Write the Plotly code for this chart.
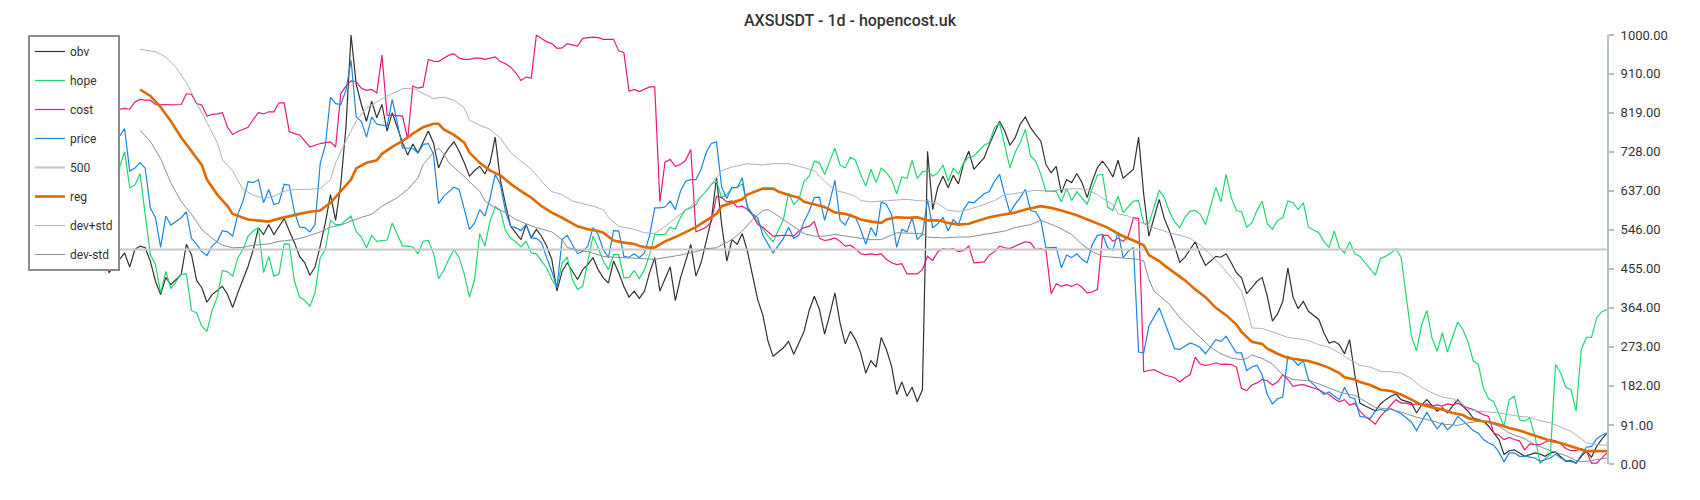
import plotly.graph_objects as go

# ---- data: (day index, value) ----
obv_pts = [(0,473),(1,446),(4,492),(5,459),(6,500),(7,508),(8,504),(9,473),(10,426),(11,395),(12,435),(13,418),(15,442),(16,512),(17,488),(18,428),(19,411),(20,377),(21,395),(22,404),(23,414),(24,395),(25,365),(26,399),(27,430),(28,461),(29,500),(30,551),(31,535),(32,558),(33,535),(34,554),(35,572),(36,543),(37,516),(38,484),(39,469),(40,440),(41,459),(42,508),(43,562),(44,628),(45,568),(46,652),(47,784),(48,1000),
(49,885),(50,838),(51,799),(52,846),(53,807),(54,838),(55,776),(56,819),(58,749),(59,720),(60,746),(61,725),(62,749),(63,776),(64,749),(65,690),(66,718),(67,737),(68,751),(69,729),(70,702),(71,671),(72,684),(73,694),(74,676),(75,702),(76,762),(77,663),(78,605),(79,554),(80,539),(81,523),(82,558),(83,527),(84,547),(85,531),(86,508),(87,477),(88,403),(89,449),(90,469),(91,449),(92,430),(93,453),(94,465),(95,481),(96,453),(97,434),
(98,422),(99,473),(100,446),(101,414),(102,389),(103,403),(104,386),(105,403),(106,446),(107,481),(108,403),(109,432),(110,459),(111,381),(112,434),(113,473),(114,512),(115,438),(116,469),(117,519),(118,570),(119,667),(120,558),(121,473),(122,523),(123,512),(124,537),(125,496),(126,442),(127,383),(128,347),(129,286),(130,251),(132,271),(133,286),(134,256),(135,282),(136,309),(137,358),(138,391),(139,360),(140,303),(141,348),(142,399),(143,329),(144,280),(145,309),(146,290),
(147,259),(148,212),(149,241),(150,226),(151,295),(152,267),(153,228),(154,162),(155,191),(156,158),(157,179),(158,145),(159,173),(160,729),(161,593),(162,645),(163,671),(164,644),(165,673),(166,653),(167,700),(168,729),(169,687),(171,714),(172,745),(173,772),(174,799),(175,776),(176,743),(177,760),(178,792),(179,809),(180,784),(181,768),(182,753),(183,698),(184,679),(185,694),(186,632),(187,663),(188,656),(189,677),(190,656),(191,621),(192,659),(193,691),(194,706),
(195,690),(196,669),(197,708),(198,666),(200,687),(201,762),(202,628),(203,531),(204,574),(205,617),(206,572),(207,543),(208,508),(209,470),(210,482),(211,500),(212,518),(213,488),(214,463),(215,473),(216,484),(217,482),(218,490),(219,469),(220,446),(221,434),(222,397),(223,411),(224,426),(225,435),(226,391),(227,333),(228,350),(229,378),(230,457),(231,389),(232,362),(233,379),(234,356),(236,337),(237,306),(238,282),(239,286),(240,278),(241,257),(242,290),
(243,208),(244,142),(245,135),(247,124),(248,140),(249,150),(250,158),(251,163),(252,150),(253,146),(254,142),(255,119),(256,138),(257,150),(258,137),(259,123),(260,131),(261,119),(262,135),(263,150),(264,135),(265,123),(266,107),(267,103),(268,100),(269,88),(270,72),(271,57),(272,22),(273,31),(274,33),(275,26),(276,18),(278,26),(279,23),(280,18),(281,26),(282,28),(283,16),(284,6),(285,8),(286,2),(287,18),(288,30),(289,16),(290,41),(291,58),(292,72)]

hope_pts = [(1,683),(3,690),(4,728),(5,644),(6,650),(7,677),(8,582),(9,488),(10,465),(11,399),(12,449),(13,409),(15,442),(16,443),(17,358),(18,352),(19,321),(20,309),(21,358),(22,389),(23,451),(24,448),(25,438),(26,481),(27,500),(28,531),(29,543),(30,551),(31,446),(32,484),(33,438),(34,443),(35,513),(36,512),(37,426),(38,389),(39,381),(40,368),(41,399),(42,481),(43,500),(44,568),(45,558),(46,558),(47,568),(48,578),
(49,541),(50,529),(51,504),(52,533),(53,519),(54,521),(55,522),(56,562),(58,508),(59,508),(60,506),(61,490),(62,519),(63,521),(64,492),(65,432),(66,451),(67,477),(68,500),(69,481),(70,442),(71,389),(72,430),(73,537),(74,508),(75,566),(76,600),(77,591),(78,544),(79,526),(80,518),(81,506),(82,519),(83,492),(84,490),(85,473),(86,457),(87,430),(88,412),(89,469),(90,482),(91,430),(92,407),(93,414),(94,473),(95,531),(96,504),(97,473),
(98,453),(99,488),(100,488),(101,434),(102,435),(103,451),(104,432),(105,453),(106,488),(107,535),(108,535),(109,535),(110,552),(111,547),(112,575),(113,593),(114,597),(115,605),(116,624),(117,636),(118,652),(119,659),(120,621),(121,628),(122,644),(123,645),(124,653),(125,601),(126,582),(127,565),(128,551),(129,531),(130,518),(132,570),(133,632),(134,605),(135,617),(136,659),(137,671),(138,706),(139,702),(140,675),(141,706),(142,736),(143,697),(144,690),(145,715),(146,708),
(147,675),(148,648),(149,687),(150,656),(151,690),(152,679),(153,663),(154,630),(155,669),(156,666),(157,708),(158,666),(159,681),(160,684),(161,671),(162,679),(163,697),(164,659),(165,689),(166,676),(167,702),(168,715),(169,718),(171,743),(172,749),(173,784),(174,795),(175,745),(176,690),(177,726),(178,749),(179,780),(180,718),(181,706),(182,675),(183,635),(184,636),(185,635),(186,611),(187,642),(188,614),(189,635),(190,621),(191,605),(192,642),(193,673),(194,675),
(195,599),(196,591),(197,624),(198,586),(200,613),(201,614),(202,560),(203,560),(204,601),(205,638),(206,621),(207,588),(208,565),(209,551),(210,575),(211,589),(212,591),(213,582),(214,558),(215,605),(216,645),(217,611),(218,675),(219,621),(220,591),(221,588),(222,552),(223,562),(224,591),(225,613),(226,560),(227,547),(228,568),(229,574),(230,613),(231,609),(232,593),(233,609),(234,552),(236,539),(237,519),(238,505),(239,543),(240,504),(241,492),(242,518),(243,490),
(244,484),(245,469),(246,456),(247,440),(248,479),(249,484),(250,492),(251,502),(252,482),(253,395),(254,298),(255,264),(256,325),(257,358),(258,294),(259,263),(260,306),(261,261),(262,294),(263,331),(264,313),(265,285),(266,241),(267,232),(268,177),(269,152),(270,145),(271,115),(272,88),(273,150),(274,158),(275,103),(276,100),(277,107),(278,65),(279,2),(281,22),(282,232),(283,212),(284,179),(285,173),(286,123),(287,267),(288,295),(289,295),(290,341),(291,355),(292,360)]

cost_pts = [(1,792),(2,813),(3,827),(4,829),(5,827),(6,844),(7,850),(8,848),(9,848),(10,838),(11,837),(12,838),(13,837),(15,838),(16,863),(17,862),(18,840),(19,837),(20,811),(21,815),(22,816),(23,819),(24,785),(25,768),(26,775),(27,780),(28,785),(29,803),(30,819),(31,816),(32,821),(33,821),(34,842),(35,842),(36,775),(37,770),(38,767),(39,753),(40,739),(41,743),(42,747),(43,749),(44,751),(45,739),(46,863),(47,881),(48,893),
(49,891),(50,876),(51,871),(52,873),(53,865),(54,953),(55,813),(56,813),(58,811),(59,757),(60,881),(61,876),(62,879),(63,943),(64,939),(65,938),(66,946),(67,953),(68,956),(69,946),(70,943),(71,943),(72,946),(73,946),(74,943),(75,946),(76,949),(77,938),(78,933),(79,925),(80,912),(81,894),(82,902),(83,899),(84,1000),(85,992),(86,984),(87,980),(88,969),(89,970),(90,980),(91,977),(92,974),(93,992),(94,994),(95,995),(96,994),(97,990),
(98,990),(99,990),(100,963),(101,959),(102,869),(103,873),(104,868),(105,873),(106,879),(107,879),(108,611),(109,704),(110,710),(111,694),(112,698),(113,708),(114,733),(115,541),(116,547),(117,552),(118,565),(119,624),(120,621),(121,611),(122,613),(123,599),(124,601),(125,593),(126,580),(127,558),(128,552),(129,541),(130,531),(132,533),(133,533),(134,531),(135,543),(136,551),(137,554),(138,565),(139,526),(140,521),(141,523),(142,527),(143,519),(144,508),(145,510),(146,502),
(147,490),(148,488),(149,490),(150,488),(151,490),(152,477),(153,469),(154,465),(155,467),(156,443),(157,443),(158,443),(159,453),(160,484),(161,474),(162,495),(163,502),(164,500),(165,502),(166,495),(167,498),(168,508),(169,469),(171,471),(172,487),(173,495),(174,508),(175,504),(176,502),(177,508),(178,513),(179,518),(180,516),(181,500),(182,502),(183,498),(184,397),(185,420),(186,414),(187,418),(188,414),(189,420),(190,412),(191,399),(192,401),(193,407),
(194,533),(195,533),(196,519),(197,526),(198,519),(199,531),(200,574),(201,572),(202,215),(203,218),(204,220),(206,208),(207,205),(208,201),(209,191),(210,201),(211,208),(212,249),(213,233),(214,230),(215,232),(216,236),(217,232),(218,233),(219,232),(220,226),(221,176),(222,171),(223,184),(224,189),(225,197),(226,194),(227,184),(228,191),(229,208),(230,197),(231,181),(232,184),(233,185),(234,181),(235,177),(236,173),(237,166),(238,162),(239,152),(240,145),(241,150),(242,137),
(243,142),(244,123),(245,111),(246,103),(247,93),(248,111),(249,124),(250,138),(251,150),(252,142),(253,142),(254,138),(255,140),(256,138),(257,140),(258,135),(259,138),(260,135),(261,140),(262,138),(263,142),(264,135),(265,131),(266,127),(267,121),(268,115),(269,111),(270,72),(271,67),(272,57),(273,62),(274,57),(275,54),(276,33),(277,47),(278,45),(279,45),(281,57),(282,54),(283,47),(284,36),(285,31),(286,31),(287,36),(288,31),(289,2),(290,2),(291,14),(292,26)]

price_pts = [(1,760),(3,764),(4,782),(5,683),(6,690),(7,702),(8,690),(9,597),(10,574),(11,505),(12,578),(13,557),(15,574),(16,588),(17,526),(18,512),(19,495),(20,486),(21,508),(22,519),(23,544),(24,541),(25,531),(26,582),(27,613),(28,658),(29,656),(30,663),(31,609),(32,640),(33,605),(34,609),(35,652),(36,650),(37,588),(38,552),(39,551),(40,541),(41,558),(42,700),(43,743),(44,855),(45,840),(46,838),(47,871),(48,941),
(49,809),(50,799),(51,762),(52,809),(53,792),(54,790),(55,788),(56,850),(58,737),(59,736),(60,736),(61,725),(62,745),(63,747),(64,723),(65,607),(66,624),(67,635),(68,645),(69,640),(70,593),(71,547),(72,562),(73,593),(74,578),(75,619),(76,675),(77,652),(78,589),(79,554),(80,551),(81,544),(82,558),(83,527),(84,526),(85,516),(86,481),(87,449),(88,412),(89,523),(90,533),(91,510),(92,490),(93,496),(94,508),(95,551),(96,535),(97,500),
(98,481),(99,544),(100,543),(101,484),(102,482),(103,490),(104,481),(105,492),(106,533),(107,597),(108,597),(109,599),(110,613),(111,593),(112,636),(113,659),(114,663),(115,663),(116,687),(117,726),(118,747),(119,751),(120,645),(121,619),(122,645),(123,644),(124,667),(125,597),(126,582),(127,574),(128,533),(129,513),(130,492),(132,526),(133,552),(134,526),(135,533),(136,565),(137,589),(138,621),(139,622),(140,568),(141,611),(142,661),(143,568),(144,557),(145,582),(146,575),
(147,547),(148,512),(149,551),(150,531),(151,611),(152,605),(153,582),(154,505),(155,547),(156,541),(157,574),(158,523),(159,535),(160,617),(161,551),(162,560),(163,575),(164,543),(165,570),(166,558),(167,593),(168,611),(169,609),(171,630),(172,635),(173,659),(174,675),(175,628),(176,586),(177,605),(178,621),(179,640),(180,591),(181,588),(182,568),(183,504),(184,504),(185,505),(186,457),(187,487),(188,481),(189,490),(190,477),(191,469),(192,512),(193,533),(194,535),
(195,504),(196,498),(197,541),(198,481),(199,496),(200,505),(201,261),(202,259),(203,321),(205,364),(206,333),(207,298),(208,269),(209,267),(210,274),(211,282),(212,278),(213,271),(214,257),(215,274),(216,290),(217,286),(218,298),(219,278),(220,259),(221,259),(222,218),(223,226),(224,230),(225,208),(226,162),(227,140),(228,152),(229,156),(230,251),(231,243),(232,230),(233,241),(234,197),(235,185),(236,173),(237,162),(238,168),(239,158),(240,150),(241,179),(242,156),(243,152),
(244,111),(245,109),(246,106),(247,124),(248,127),(249,124),(250,129),(252,117),(253,107),(254,98),(255,78),(256,98),(257,121),(258,100),(259,82),(260,96),(261,80),(262,90),(263,111),(264,101),(265,90),(266,78),(267,72),(268,57),(269,49),(270,44),(271,28),(272,5),(273,26),(274,26),(275,18),(276,18),(277,16),(278,14),(279,6),(281,14),(282,23),(283,14),(284,8),(285,6),(286,2),(287,22),(288,39),(289,41),(290,59),(291,67),(292,72)]

level_days = [0, 292]
level_vals = [500, 500]

reg_pts = [(7,873),(9,858),(11,832),(13,799),(15,761),(17,728),(19,697),(20,663),(22,628),(24,601),(25,583),(28,570),(30,568),(32,565),(34,572),(36,578),(38,583),(40,588),(42,591),(44,609),(46,636),(48,663),(49,689),(51,702),(53,708),(54,723),(56,739),(58,753),(60,770),(62,785),(64,793),(65,793),(66,780),(68,767),(70,749),(71,726),(73,702),(75,684),(77,673),(79,653),(81,636),(83,621),(85,601),(87,586),(89,574),(91,560),(92,554),(94,547),(96,543),(97,539),
(99,521),(101,516),(103,513),(104,508),(106,504),(107,505),(109,519),(111,529),(113,541),(115,552),(117,568),(119,583),(120,601),(122,609),(124,617),(125,628),(127,638),(128,642),(130,642),(131,635),(133,627),(135,621),(136,611),(138,605),(140,599),(142,586),(144,583),(146,575),
(147,570),(149,565),(151,562),(152,570),(154,575),(156,574),(158,575),(160,568),(162,568),(164,562),(166,558),(168,560),(170,568),(172,575),(174,580),(177,586),(179,593),(182,601),(184,597),(186,591),(189,580),(192,566),(194,555),
(195,551),(197,537),(198,531),(200,521),(202,510),(203,487),(205,473),(206,463),(208,446),(210,428),(212,407),(214,389),(216,364),(218,347),(220,325),(221,308),(223,285),(225,280),(226,269),(228,257),(230,247),(232,243),(234,240),(236,233),(238,224),(240,212),(241,202),(243,197),
(244,191),(246,184),(248,173),(250,170),(252,162),(254,150),(256,138),(258,132),(260,127),(262,119),(264,114),(265,107),(267,101),(269,98),(271,92),(273,84),(275,78),(277,70),(279,62),(281,54),(283,49),(285,41),(287,33),(288,30),(290,30),(292,30)]

devp_pts = [(7,967),(10,961),(12,949),(14,924),(16,889),(18,842),(20,796),(22,749),(23,710),(25,683),(27,640),(29,627),(31,619),(33,624),(35,636),(37,640),(39,640),(42,642),(44,663),(45,702),(47,753),(49,800),(51,830),(53,844),(55,858),(57,869),(58,875),(60,876),(62,863),(64,852),(66,855),(68,848),(70,830),(71,801),(73,790),(75,780),(77,760),(79,726),(81,706),(83,687),(85,659),(87,635),(89,628),(91,613),(93,607),(95,601),(97,593),
(98,575),(100,554),(103,547),(105,539),(107,537),(109,554),(112,582),(114,601),(116,624),(118,652),(120,684),(122,692),(125,700),(128,697),(130,700),(133,700),(135,694),(138,684),(140,659),(142,638),(144,632),(146,624),
(147,614),(149,611),(151,613),(154,616),(156,617),(158,614),(160,613),(162,607),(164,591),(166,589),(168,593),(171,605),(173,614),(175,628),(177,630),(179,635),(181,638),(184,636),(186,640),(189,642),(191,640),(193,628),(194,619),
(196,605),(197,583),(199,578),(201,566),(203,554),(205,547),(207,539),(209,533),(211,526),(213,510),(215,488),(217,463),(219,435),(221,403),(222,364),(223,317),(225,316),(227,308),(229,300),(230,295),(232,292),(234,288),(236,278),(238,272),(240,259),(242,243),(243,238),
(244,230),(246,226),(248,216),(250,215),(252,212),(254,199),(256,179),(258,166),(260,156),(262,152),(264,140),(265,127),(267,123),(269,121),(271,119),(273,115),(275,111),(277,109),(279,101),(281,96),(283,86),(285,76),(287,59),(288,49),(290,45),(292,44)]

devm_pts = [(7,778),(9,752),(11,712),(13,655),(15,612),(17,582),(19,547),(21,526),(23,510),(25,504),(27,505),(29,510),(32,513),(34,519),(37,523),(39,529),(42,541),(44,552),(46,557),(48,566),(50,575),(52,582),(54,601),(57,621),(59,640),(61,667),(62,698),(64,726),(65,736),(66,723),(67,702),(69,681),(71,659),(73,636),(74,613),(76,597),(78,586),(80,570),(82,560),(84,551),(87,541),(89,523),(90,505),(92,498),(94,495),(96,487),(97,484),
(99,482),(102,481),(104,479),(107,477),(109,481),(112,487),(115,495),(117,502),(119,504),(122,523),(124,543),(126,570),(128,591),(129,593),(130,586),(132,570),(134,552),(136,537),(138,531),(140,531),(142,535),(144,531),(146,527),
(147,526),(149,523),(151,523),(154,539),(157,537),(159,537),(160,529),(163,527),(166,529),(168,529),(171,535),(173,539),(175,543),(177,551),(180,558),(182,568),(185,554),(188,535),(190,512),(192,495),(194,484),
(196,482),(199,479),(201,477),(202,473),(203,430),(204,403),(206,381),(207,372),(209,341),(211,317),(213,295),(215,272),(217,257),(219,247),(221,243),(222,246),(223,254),(225,246),(227,233),(229,208),(231,197),(234,194),(236,187),(238,177),(240,168),(242,162),(243,160),
(245,146),(247,132),(250,127),(252,121),(255,109),(258,101),(260,93),(263,90),(265,96),(268,101),(271,88),(273,72),(276,59),(278,45),(281,31),(284,20),(286,8),(287,5),(289,8),(292,14)]

ytick_vals = [0, 91, 182, 273, 364, 455, 546, 637, 728, 819, 910, 1000]
ytick_text = [f"{v:.2f}" for v in ytick_vals]


def split(pts):
    return [p[0] for p in pts], [p[1] for p in pts]


series = [
    ("obv", split(obv_pts), "#333333", 1.2),
    ("hope", split(hope_pts), "#1ed870", 1.2),
    ("cost", split(cost_pts), "#e8197f", 1.2),
    ("price", split(price_pts), "#1a86e0", 1.2),
    ("500", (level_days, level_vals), "#c8c8c8", 2.2),
    ("reg", split(reg_pts), "#df6a00", 2.6),
    ("dev+std", split(devp_pts), "#aab2ba", 1.0),
    ("dev-std", split(devm_pts), "#83909c", 1.0),
]

fig = go.Figure()
for name, (xs, ys), color, width in series:
    fig.add_trace(go.Scatter(
        x=xs, y=ys, name=name, mode="lines", legendgroup=name,
        line=dict(color=color, width=width), hoverinfo="skip",
    ))

fig.update_layout(
    width=1700, height=500,
    margin=dict(l=104, r=93, t=35, b=36),
    paper_bgcolor="white", plot_bgcolor="white",
    font=dict(family="Roboto, sans-serif", color="#333333"),
    title=dict(text="AXSUSDT - 1d - hopencost.uk", x=0.5, xref="container", xanchor="center",
               y=0.96, yref="container", yanchor="middle",
               font=dict(size=16, color="#333333", weight=500)),
    xaxis=dict(visible=False, range=[0, 292]),
    yaxis=dict(range=[0, 1000], side="right", showgrid=False, zeroline=False,
               showline=True, linecolor="#b6bec6", linewidth=2,
               ticks="outside", ticklen=5, tickwidth=1.5, tickcolor="#b6bec6",
               tickvals=ytick_vals, ticktext=ytick_text,
               tickfont=dict(size=13, color="#333333"), ticklabelstandoff=4),
    legend=dict(x=-0.0506, y=1.0, xanchor="left", yanchor="top",
                bgcolor="white", bordercolor="#8c8c8c", borderwidth=2,
                font=dict(size=12, color="#333333"), tracegroupgap=10,
                itemwidth=30),
    showlegend=True,
)

fig.write_html("out.html", config={"displayModeBar": False},
               post_script="document.body.style.margin='0px';")
